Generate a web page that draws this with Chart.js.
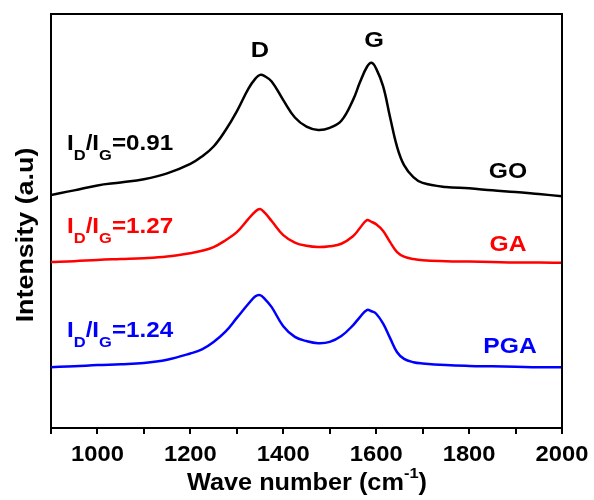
<!DOCTYPE html>
<html>
<head>
<meta charset="utf-8">
<script src="https://cdn.jsdelivr.net/npm/chart.js@4.4.0/dist/chart.umd.min.js"></script>
<style>
  html, body { margin: 0; padding: 0; background: #fff; }
  #raman { display: block; }
</style>
</head>
<body>
<canvas id="raman" width="594" height="500"></canvas>
<script>
// Raman spectra, wavenumber grid shared by the three samples
const waveNumbers = [900, 950, 1000, 1050, 1100, 1150, 1200, 1225, 1250, 1275, 1300, 1325, 1340, 1350, 1360, 1375,
  1400, 1425, 1450, 1475, 1500, 1525, 1550, 1565, 1580, 1590, 1600, 1615, 1630, 1645, 1660, 1680, 1700,
  1750, 1800, 1850, 1900, 1950, 2000];

const goIntensity = [56.3, 57.4, 58.6, 59.3, 60.1, 61.5, 63.8, 65.6, 68.0, 71.8, 76.5, 82.0, 84.4, 85.3, 85.0, 83.7,
  79.2, 75.0, 72.8, 72.0, 72.5, 74.2, 79.2, 83.5, 87.2, 88.2, 86.8, 82.5, 75.0, 67.9, 63.5, 60.6, 59.2,
  58.2, 57.9, 57.4, 57.0, 56.5, 56.0];

const gaIntensity = [40.1, 40.3, 40.6, 40.8, 41.0, 41.4, 42.2, 42.8, 43.7, 45.3, 47.3, 50.5, 52.3, 52.9, 52.0, 50.0,
  46.6, 44.8, 44.0, 43.7, 43.9, 44.5, 46.3, 48.3, 50.2, 49.8, 49.2, 47.6, 44.9, 42.5, 41.4, 40.8, 40.5,
  40.3, 40.2, 40.1, 40.0, 40.0, 39.9];

const pgaIntensity = [14.7, 14.9, 15.2, 15.4, 15.7, 16.5, 18.0, 19.0, 20.8, 23.2, 26.6, 30.0, 31.8, 32.1, 31.2, 29.2,
  24.6, 22.0, 21.0, 20.5, 20.8, 22.2, 24.8, 26.8, 28.5, 28.2, 27.6, 25.2, 21.7, 18.3, 16.7, 15.9, 15.6,
  15.2, 15.0, 14.9, 14.8, 14.7, 14.7];

const xTickLabels = [1000, 1200, 1400, 1600, 1800, 2000];
const sampleNames = ['GO', 'GA', 'PGA'];
const ratioLabels = ['0.91', '1.27', '1.24'];
const peakNames = ['D', 'G'];

const BLACK = '#000000';
const RED = '#ff0000';
const BLUE = '#0000ff';
const FONT = '"Liberation Sans", Arial, sans-serif';

function toPoints(ys) {
  return waveNumbers.map((x, i) => ({ x: x, y: ys[i] }));
}

function series(label, ys, color) {
  return {
    label: label,
    data: toPoints(ys),
    borderColor: color,
    borderWidth: 2.5,
    pointRadius: 0,
    fill: false,
    tension: 0.4
  };
}

// draw a string, a bit wider than plain Arial, like the original figure
function wideText(ctx, str, x, y, size, color, align, stretch) {
  ctx.save();
  ctx.font = 'bold ' + size + 'px ' + FONT;
  ctx.fillStyle = color;
  ctx.textBaseline = 'alphabetic';
  const w = ctx.measureText(str).width * stretch;
  let left = x;
  if (align === 'center') left = x - w / 2;
  if (align === 'right') left = x - w;
  ctx.translate(left, y);
  ctx.scale(stretch, 1);
  ctx.textAlign = 'left';
  ctx.fillText(str, 0, 0);
  ctx.restore();
  return w;
}

// I_D/I_G=value with subscripts
function ratioText(ctx, value, x, y, color) {
  const st = 1.1;
  let cx = x;
  cx += wideText(ctx, 'I', cx, y, 22, color, 'left', st);
  cx += wideText(ctx, 'D', cx, y + 10, 15, color, 'left', st);
  cx += wideText(ctx, '/I', cx, y, 22, color, 'left', st);
  cx += wideText(ctx, 'G', cx, y + 10, 15, color, 'left', st);
  wideText(ctx, '=' + value, cx, y, 22, color, 'left', st);
}

const textPlugin = {
  id: 'ramanText',
  afterDraw(chart) {
    const ctx = chart.ctx;
    const a = chart.chartArea;
    const xs = chart.scales.x;

    // frame top and right
    ctx.save();
    ctx.strokeStyle = BLACK;
    ctx.lineWidth = 2;
    ctx.beginPath();
    ctx.moveTo(a.left - 1, a.top);
    ctx.lineTo(a.right, a.top);
    ctx.lineTo(a.right, a.bottom + 1);
    ctx.stroke();
    ctx.restore();

    // tick labels
    xTickLabels.forEach(v => {
      wideText(ctx, String(v), xs.getPixelForValue(v), 461, 22, BLACK, 'center', 1.08);
    });

    // x title with superscript
    const main = 'Wave number (cm';
    const st = 1.1;
    ctx.font = 'bold 23px ' + FONT;
    const wMain = ctx.measureText(main).width * st;
    const wEnd = ctx.measureText(')').width * st;
    ctx.font = 'bold 15px ' + FONT;
    const wSup = ctx.measureText('-1').width * st;
    let left = 307 - (wMain + wSup + wEnd) / 2;
    left += wideText(ctx, main, left, 490, 23, BLACK, 'left', st);
    left += wideText(ctx, '-1', left, 478, 15, BLACK, 'left', st);
    wideText(ctx, ')', left, 490, 23, BLACK, 'left', st);

    // y title
    ctx.save();
    ctx.translate(33, 235);
    ctx.rotate(-Math.PI / 2);
    wideText(ctx, 'Intensity (a.u)', 0, 0, 24, BLACK, 'center', 1.12);
    ctx.restore();

    // peak names
    wideText(ctx, peakNames[0], 260, 57, 22, BLACK, 'center', 1.15);
    wideText(ctx, peakNames[1], 374, 47, 22, BLACK, 'center', 1.15);

    // sample names
    wideText(ctx, sampleNames[0], 508, 178, 22, BLACK, 'center', 1.12);
    wideText(ctx, sampleNames[1], 508, 251, 22, RED, 'center', 1.12);
    wideText(ctx, sampleNames[2], 510, 353, 22, BLUE, 'center', 1.12);

    // ratios
    ratioText(ctx, ratioLabels[0], 67, 150, BLACK);
    ratioText(ctx, ratioLabels[1], 67, 233, RED);
    ratioText(ctx, ratioLabels[2], 67, 337, BLUE);
  }
};

new Chart(document.getElementById('raman').getContext('2d'), {
  type: 'line',
  data: {
    datasets: [
      series('GO', goIntensity, BLACK),
      series('GA', gaIntensity, RED),
      series('PGA', pgaIntensity, BLUE)
    ]
  },
  options: {
    responsive: false,
    animation: false,
    layout: { padding: { top: 14, right: 32, left: 0, bottom: 0 } },
    plugins: { legend: { display: false }, tooltip: { enabled: false } },
    scales: {
      x: {
        type: 'linear',
        min: 900,
        max: 2000,
        afterFit(scale) { scale.height = 72; },
        ticks: { stepSize: 100, color: 'rgba(0,0,0,0)', font: { size: 1 } },
        grid: { drawOnChartArea: false, drawTicks: true, tickLength: 6, color: BLACK, lineWidth: 2 },
        border: { display: true, color: BLACK, width: 2 }
      },
      y: {
        min: 0,
        max: 100,
        afterFit(scale) { scale.width = 51; },
        ticks: { display: false },
        grid: { display: false, drawTicks: false },
        border: { display: true, color: BLACK, width: 2 }
      }
    }
  },
  plugins: [textPlugin]
});
</script>
</body>
</html>
